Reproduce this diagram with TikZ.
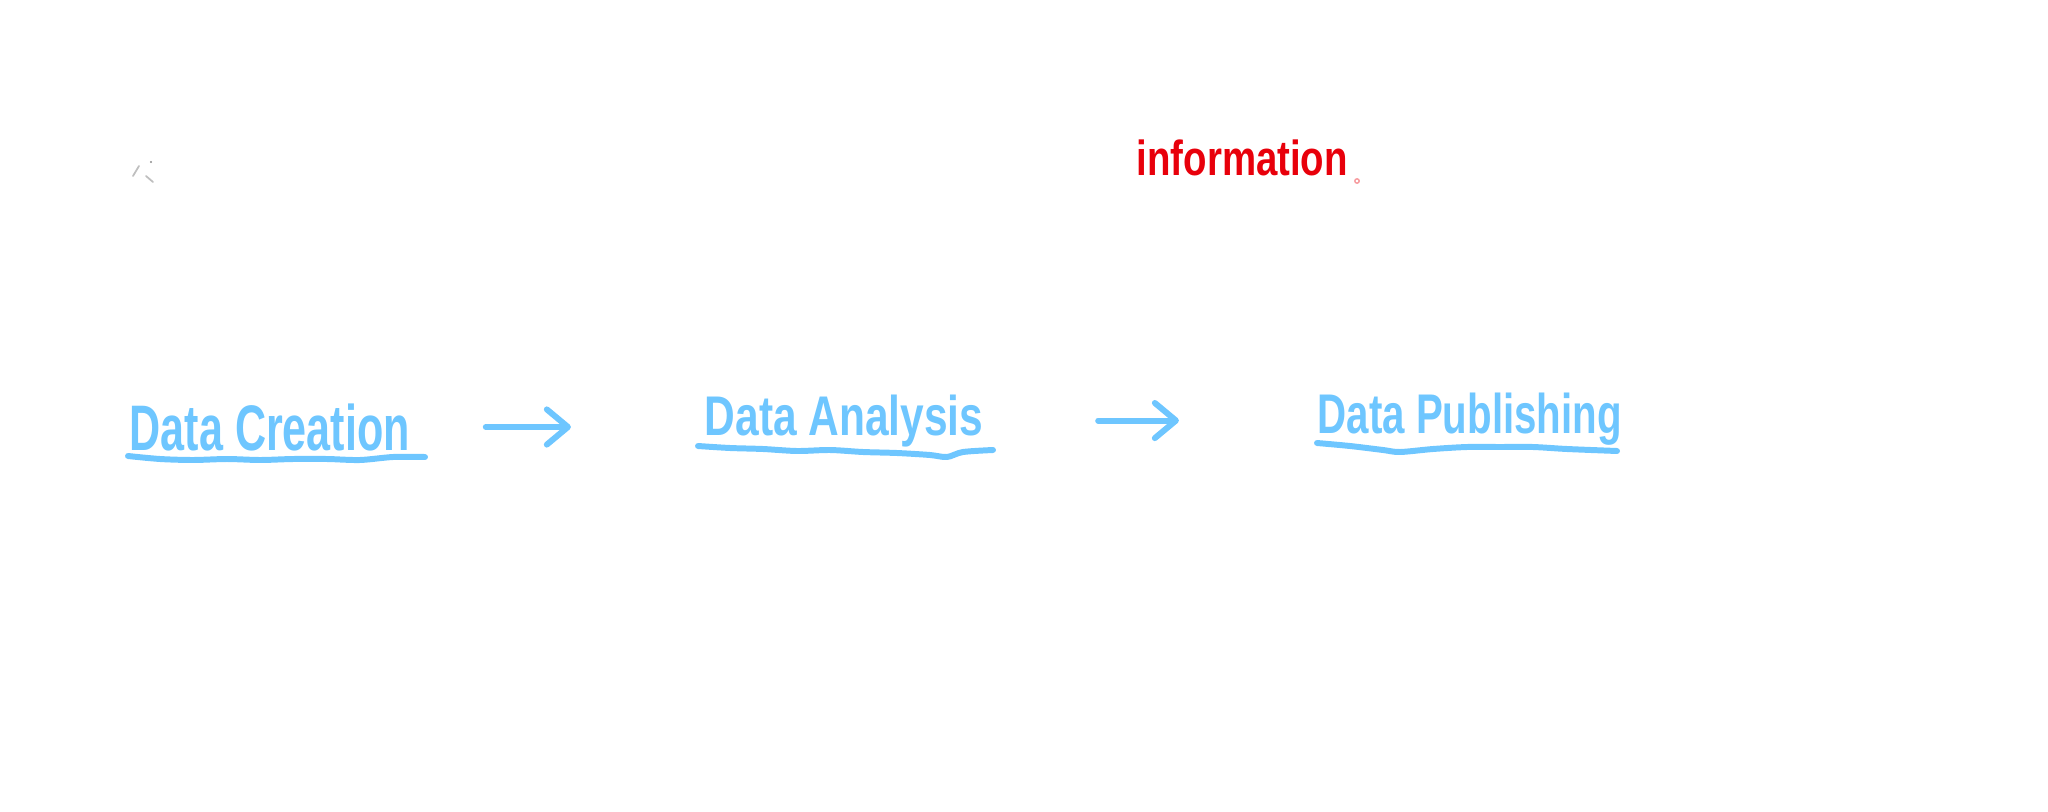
\documentclass[tikz,border=0pt]{standalone}
\usepackage{fontspec}
\setmainfont{Liberation Sans}
\usetikzlibrary{arrows.meta,positioning,calc}
\definecolor{inkblue}{HTML}{6EC6FF}
\definecolor{inkred}{HTML}{E8000B}
\tikzstyle{stagetext}=[text=inkblue, inner sep=0pt, anchor=base west]
\tikzstyle{note}=[text=inkred, inner sep=0pt, anchor=base west, font=\bfseries\fontsize{14}{16}\selectfont]
\tikzstyle{scrawl}=[draw=inkblue, line width=1.7pt, line cap=round, line join=round]
\tikzstyle{line}=[scrawl, -{Straight Barb[length=6pt,width=10pt,line width=1.7pt,round]}]
\newcommand{\stage}[4]{node (#1)[stagetext, font=\bfseries\fontsize{#2}{#2}\selectfont]{\scalebox{#3}[1]{#4}}}

\begin{document}
\begin{tikzpicture}[x=0.01cm,y=-0.01cm]
  \useasboundingbox (0,0) rectangle (2048,812);

  % the three stages
  \path (129,450) \stage{create}{18.3}{0.67}{Data Creation};
  \path (704,435) \stage{analyse}{15.9}{0.76}{Data Analysis};
  \path (1317,433) \stage{publish}{15.9}{0.72}{Data Publishing};

  % red note at the top
  \node[note] (info) at (1136,175) {\scalebox{0.78}[1]{information}};
  \draw[inkred!40, line width=0.4pt] (1357,181) circle (2.2);

  % faint scribble top left
  \draw[black!25, line width=0.5pt, line cap=round] (133,176) -- (139,166) (146,176) -- (153,182);
  \fill[black!45] (151,162) circle (1.2);

  % wavy underlines
  \draw[scrawl] plot[smooth] coordinates {(128,456) (160,459) (193,460) (227,459) (260,460)
    (293,459) (327,459) (360,460) (393,457) (425,457)};
  \draw[scrawl] plot[smooth] coordinates {(698,446) (730,448) (763,449) (797,451) (830,450)
    (863,452) (897,453) (930,455) (947,457) (963,452) (993,450)};
  \draw[scrawl] plot[smooth] coordinates {(1317,443) (1350,446) (1383,450) (1400,452) (1433,449)
    (1467,447) (1500,447) (1533,447) (1567,449) (1617,451)};

  % arrows between the stages
  \path [line, shorten <=0.75cm, shorten >=1.33cm] (create.east) -- (create.east -| analyse.west);
  \path [line, shorten <=1.14cm, shorten >=1.38cm] (analyse.east) -- (analyse.east -| publish.west);
\end{tikzpicture}
\end{document}
